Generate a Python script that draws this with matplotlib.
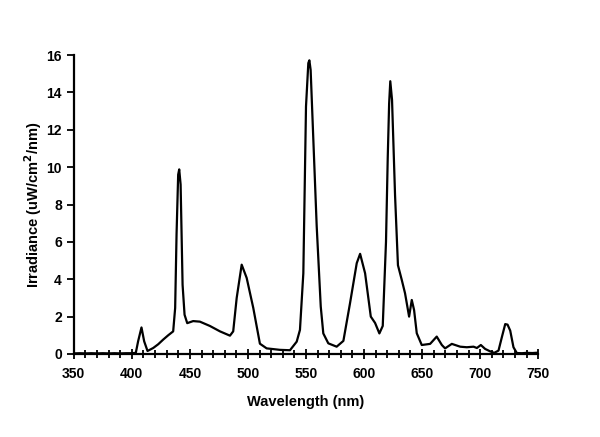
import numpy as np
import matplotlib.pyplot as plt
from matplotlib.ticker import MultipleLocator

# Спектр
wavelength = [350, 355, 360, 365, 370, 375, 380, 385, 390, 395, 400, 403.4,
              405.4, 408.3, 410.6, 413.5, 418.4, 422.7, 427, 431.3, 435.6,
              437.3, 438.5, 439.9, 440.8, 442, 443.7, 445.4, 447.7, 452.8,
              458.6, 467.2, 475.9, 484.5, 487.3, 490.3, 494.6, 498.9, 504.6,
              510.3, 516.1, 527.6, 536.2, 542, 544.8, 547.7, 550, 552, 552.9,
              554, 556.3, 559.2, 562.7, 564.9, 569.2, 576.4, 582.2, 587.9,
              593.7, 596.6, 600.9, 605.8, 609.5, 613.2, 616.1, 618.9, 620.4,
              621.6, 622.6, 624.1, 626.7, 629.2, 632.5, 635.3, 638.8, 641.1,
              643.1, 645.4, 649.7, 656.9, 662.6, 667, 669.8, 675.6, 682.8,
              688.5, 694.3, 697.2, 700.6, 704.3, 708.6, 712.1, 715.8, 718.7,
              721.6, 723.6, 725.9, 728.7, 731.6, 736, 740, 745, 750]
irradiance = [0.03, 0.04, 0.03, 0.04, 0.03, 0.04, 0.03, 0.04, 0.03, 0.04, 0.04, 0.06,
              0.68, 1.42, 0.68, 0.16, 0.32, 0.52, 0.77, 1.0, 1.21,
              2.46, 6.4, 9.6, 9.88, 9.07, 3.7, 2.1, 1.65, 1.76,
              1.73, 1.5, 1.21, 0.98, 1.21, 3.0, 4.78, 4.07, 2.46,
              0.55, 0.3, 0.22, 0.2, 0.66, 1.29, 4.32, 13.25, 15.57, 15.72,
              15.2, 11.5, 6.86, 2.54, 1.1, 0.57, 0.39, 0.7, 2.71,
              4.86, 5.36, 4.32, 2.0, 1.66, 1.1, 1.5, 6.0, 10.5,
              13.4, 14.6, 13.6, 8.5, 4.75, 3.96, 3.25, 2.0, 2.89,
              2.35, 1.11, 0.48, 0.54, 0.93, 0.48, 0.3, 0.54, 0.39,
              0.36, 0.39, 0.32, 0.48, 0.27, 0.14, 0.06, 0.18, 0.9,
              1.6, 1.57, 1.25, 0.36, 0.05, 0.04, 0.06, 0.05, 0.07]

plt.rcParams['font.family'] = ['Liberation Sans', 'DejaVu Sans']

fig = plt.figure(figsize=(6, 4.37), dpi=100)
ax = fig.add_axes([0.123, 0.19, 0.774, 0.684])

ax.plot(wavelength, irradiance, color='black', linewidth=1.6)

ax.set_xlim(350, 750)
ax.set_ylim(0, 16)
ax.xaxis.set_major_locator(MultipleLocator(50))
ax.xaxis.set_minor_locator(MultipleLocator(10))
ax.yaxis.set_major_locator(MultipleLocator(2))

for s in ['top', 'right']:
    ax.spines[s].set_visible(False)
for s in ['left', 'bottom']:
    ax.spines[s].set_linewidth(1.6)

ax.tick_params(axis='x', which='major', direction='inout', length=7, width=1.3, labelsize=10, pad=6)
ax.tick_params(axis='x', which='minor', direction='inout', length=6, width=1.3)
ax.tick_params(axis='y', which='major', direction='out', length=5, width=1.3, labelsize=10)
for lab in ax.get_xticklabels() + ax.get_yticklabels():
    lab.set_fontweight('bold')

ax.set_xlabel('Wavelength (nm)', fontsize=10.5, fontweight='bold', labelpad=10)
ax.set_ylabel('Irradiance (uW/cm$^\\mathbf{2}$/nm)', fontsize=10.5, fontweight='bold', labelpad=2)

fig.savefig('out.png', dpi=100)
